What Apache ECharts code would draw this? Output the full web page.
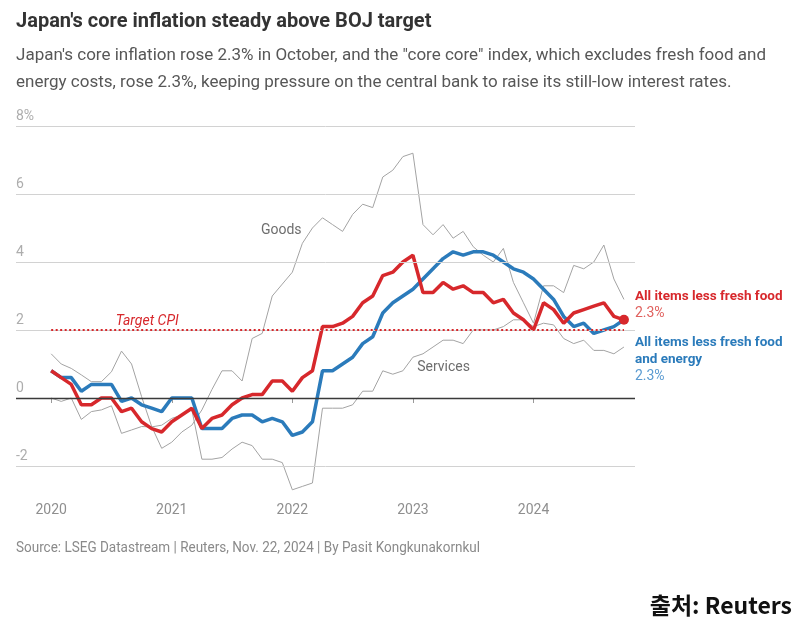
<!DOCTYPE html>
<html><head><meta charset="utf-8">
<script src="https://cdn.jsdelivr.net/npm/echarts@6/dist/echarts.min.js"></script>
<style>html,body{margin:0;padding:0;background:#fff}#c{width:804px;height:630px}</style>
</head><body><div id="c"></div>
<script>
// ---- Data (monthly, Jan 2020 – Oct 2024), y/y % change ----
const months = [
 '2020-01','2020-02','2020-03','2020-04','2020-05','2020-06','2020-07','2020-08','2020-09','2020-10','2020-11','2020-12',
 '2021-01','2021-02','2021-03','2021-04','2021-05','2021-06','2021-07','2021-08','2021-09','2021-10','2021-11','2021-12',
 '2022-01','2022-02','2022-03','2022-04','2022-05','2022-06','2022-07','2022-08','2022-09','2022-10','2022-11','2022-12',
 '2023-01','2023-02','2023-03','2023-04','2023-05','2023-06','2023-07','2023-08','2023-09','2023-10','2023-11','2023-12',
 '2024-01','2024-02','2024-03','2024-04','2024-05','2024-06','2024-07','2024-08','2024-09','2024-10'];
const coreCPI = [
 0.8,0.6,0.4,-0.2,-0.2,0.0,0.0,-0.4,-0.3,-0.7,-0.9,-1.0,
 -0.7,-0.5,-0.3,-0.9,-0.6,-0.5,-0.2,0.0,0.1,0.1,0.5,0.5,
 0.2,0.6,0.8,2.1,2.1,2.2,2.4,2.8,3.0,3.6,3.7,4.0,
 4.2,3.1,3.1,3.4,3.2,3.3,3.1,3.1,2.8,2.9,2.5,2.3,
 2.0,2.8,2.6,2.2,2.5,2.6,2.7,2.8,2.4,2.3];
const coreCore = [
 0.8,0.6,0.6,0.2,0.4,0.4,0.4,-0.1,0.0,-0.2,-0.3,-0.4,
 0.0,0.0,0.0,-0.9,-0.9,-0.9,-0.6,-0.5,-0.5,-0.7,-0.6,-0.7,
 -1.1,-1.0,-0.7,0.8,0.8,1.0,1.2,1.6,1.8,2.5,2.8,3.0,
 3.2,3.5,3.8,4.1,4.3,4.2,4.3,4.3,4.2,4.0,3.8,3.7,
 3.5,3.2,2.9,2.4,2.1,2.2,1.9,2.0,2.1,2.3];
const goods = [
 1.3,1.0,0.87,0.68,0.48,0.48,0.77,1.38,1.0,0.04,-0.84,-1.48,
 -1.3,-1.0,-0.8,-0.35,0.25,0.8,0.8,0.5,1.75,1.9,3.0,3.35,
 3.7,4.55,5.0,5.3,5.1,4.9,5.4,5.7,5.6,6.5,6.7,7.1,
 7.2,5.1,4.8,5.1,4.7,4.9,4.45,4.2,4.0,4.4,3.4,2.8,
 2.2,3.3,3.3,3.1,3.9,3.8,4.0,4.5,3.5,2.9];
const services = [
 0.0,-0.1,0.0,-0.63,-0.4,-0.35,-0.23,-1.04,-0.94,-0.84,-0.85,-0.8,
 -0.6,-0.5,-0.35,-1.8,-1.8,-1.75,-1.5,-1.3,-1.4,-1.8,-1.8,-1.9,
 -2.7,-2.6,-2.5,-0.3,-0.3,-0.3,-0.2,0.2,0.2,0.8,0.7,0.8,
 1.2,1.3,1.5,1.7,1.7,1.6,2.0,2.0,2.0,2.1,2.3,2.3,
 2.1,2.2,2.15,1.75,1.6,1.7,1.4,1.4,1.3,1.5];
const yearTicks = [0,12,24,36,48];
const yearLabels = ['2020','2021','2022','2023','2024'];
const gridValues = [-2,0,2,4,6,8];
const targetCPI = 2;

const titleText = "Japan's core inflation steady above BOJ target";
const subLine1 = 'Japan\'s core inflation rose 2.3% in October, and the "core core" index, which excludes fresh food and';
const subLine2 = 'energy costs, rose 2.3%, keeping pressure on the central bank to raise its still-low interest rates.';
const sourceText = 'Source: LSEG Datastream | Reuters, Nov. 22, 2024 | By Pasit Kongkunakornkul';
const creditText = '출처: Reuters';

// ---- Styling ----
const FONT = 'Roboto, "Noto Sans", sans-serif';
const RED = '#d7282c', BLUE = '#2b7bbb', GRAY = '#a3a3a3';

function fitScale(text, font, target){
  const ctx = document.createElement('canvas').getContext('2d');
  ctx.font = font;
  return Math.min(1, target / ctx.measureText(text).width);
}
const titleFont = 'bold 20px Roboto';
const subFont = '17px Roboto';
const srcFont = '14px Roboto';
const sTitle = fitScale(titleText, titleFont, 428);
const sSub = fitScale(subLine1, subFont, 772);
const sSrc = fitScale(sourceText, srcFont, 464);

const toXY = arr => arr.map((v,i) => [i, v]);
const last = coreCPI.length - 1;

const chart = echarts.init(document.getElementById('c'));
chart.setOption({
  animation: false,
  textStyle: {fontFamily: FONT},
  grid: {left: 16, right: 169, top: 126, bottom: 138.5},
  xAxis: {
    type: 'value', min: -3.5, max: 58.1,
    axisLine: {show: false}, splitLine: {show: false},
    axisTick: {show: true, customValues: yearTicks, length: 5, lineStyle: {color: '#9a9a9a'}},
    axisLabel: {customValues: yearTicks, formatter: v => yearLabels[yearTicks.indexOf(v)],
      color: '#8f8f8f', fontSize: 14, margin: 12, fontFamily: FONT}
  },
  yAxis: {type: 'value', min: -2.75, max: 8, show: false},
  graphic: [
    {type:'text', x:16, y:22, scaleX:sTitle, style:{text:titleText, font:titleFont, fill:'#333', verticalAlign:'middle'}},
    {type:'text', x:16, y:56, scaleX:sSub, style:{text:subLine1, font:subFont, fill:'#575757', verticalAlign:'middle'}},
    {type:'text', x:16, y:83, scaleX:sSub, style:{text:subLine2, font:subFont, fill:'#575757', verticalAlign:'middle'}},
    {type:'text', x:16, y:548, scaleX:sSrc, style:{text:sourceText, font:srcFont, fill:'#8a8a8a', verticalAlign:'middle'}},
    {type:'text', x:792, y:605, style:{text:creditText, font:'bold 23px "Noto Sans CJK KR"', fill:'#111', align:'right', verticalAlign:'middle'}}
  ],
  series: [
    {
      name: 'Goods', type: 'line', data: toXY(goods), symbol: 'none', z: 2,
      lineStyle: {color: GRAY, width: 1}, silent: true,
      markLine: {
        silent: true, symbol: ['none','none'],
        data: gridValues.map(v => ({
          yAxis: v,
          lineStyle: {color: v === 0 ? '#3a3a3a' : '#d2d2d2', width: v === 0 ? 1.3 : 1, type: 'solid'},
          label: {show: true, position: 'insideStartTop', distance: [0, 3],
            formatter: v === 8 ? '8%' : String(v), color: '#adadad', fontSize: 14, fontFamily: FONT}
        }))
      },
      markPoint: {
        silent: true, symbol: 'circle', symbolSize: 0,
        data: [{coord: [22.9, 4.94], label: {show: true, position: 'inside', formatter: 'Goods', color: '#6e6e6e', fontSize: 14, fontFamily: FONT}}]
      }
    },
    {
      name: 'Services', type: 'line', data: toXY(services), symbol: 'none', z: 2,
      lineStyle: {color: GRAY, width: 1}, silent: true,
      markLine: {
        silent: true, symbol: ['none','none'],
        data: [[{coord: [0, targetCPI]}, {coord: [last, targetCPI]}]],
        lineStyle: {color: RED, width: 2, type: [2, 2.5]},
        label: {show: false}
      },
      markPoint: {
        silent: true, symbol: 'circle', symbolSize: 0,
        data: [
          {coord: [39.05, 0.9], label: {show: true, position: 'inside', formatter: 'Services', color: '#6e6e6e', fontSize: 14, fontFamily: FONT}},
          {coord: [9.55, 2.24], label: {show: true, position: 'inside', formatter: 'Target CPI', color: RED, fontSize: 14, fontStyle: 'italic', fontFamily: FONT}}
        ]
      }
    },
    {
      name: 'All items less fresh food and energy', type: 'line', data: toXY(coreCore), symbol: 'none', z: 3,
      lineStyle: {color: BLUE, width: 3.5}, silent: true,
      endLabel: {show: true, distance: 11, offset: [0, 40],
        formatter: p => '{a|All items less fresh food}\n{a|and energy}\n{b|' + p.value[1].toFixed(1) + '%}',
        rich: {a: {color: BLUE, fontWeight: 'bold', fontSize: 13.5, lineHeight: 17, fontFamily: FONT},
               b: {color: '#5b9bd1', fontSize: 14, lineHeight: 17, fontFamily: FONT}}}
    },
    {
      name: 'All items less fresh food', type: 'line', data: toXY(coreCPI), symbol: 'none', z: 4,
      lineStyle: {color: RED, width: 3.5}, silent: true,
      endLabel: {show: true, distance: 11, offset: [0, -15],
        formatter: p => '{a|All items less fresh food}\n{b|' + p.value[1].toFixed(1) + '%}',
        rich: {a: {color: RED, fontWeight: 'bold', fontSize: 13.5, lineHeight: 17, fontFamily: FONT},
               b: {color: '#e0615e', fontSize: 14, lineHeight: 17, fontFamily: FONT}}},
      markPoint: {
        silent: true, symbol: 'circle', symbolSize: 10, itemStyle: {color: RED},
        label: {show: false},
        data: [{coord: [last, coreCPI[last]]}]
      }
    }
  ]
});
</script>
</body></html>
